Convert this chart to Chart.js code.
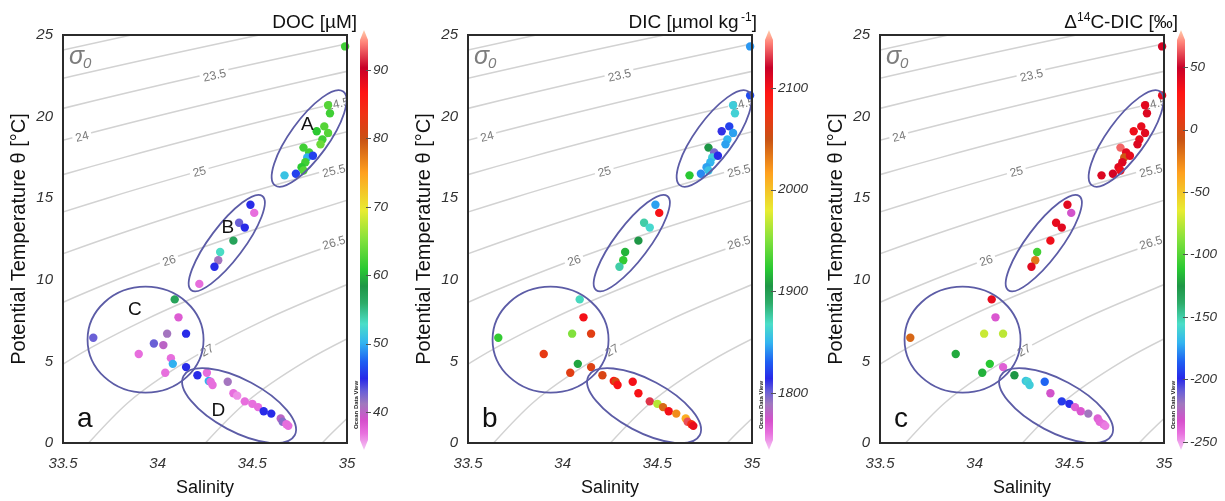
<!DOCTYPE html>
<html>
<head>
<meta charset="utf-8">
<script src="https://cdn.jsdelivr.net/npm/chart.js@4.4.1/dist/chart.umd.min.js"></script>
<style>
  html, body { margin: 0; padding: 0; background: #fff; }
  #wrap { position: relative; width: 1225px; height: 501px; overflow: hidden; }
  .panel { position: absolute; top: 0; height: 501px; }
</style>
</head>
<body>
<div id="wrap">
  <div class="panel" style="left:0;width:405px"><canvas id="chartA"></canvas></div>
  <div class="panel" style="left:405px;width:412px"><canvas id="chartB"></canvas></div>
  <div class="panel" style="left:817px;width:408px"><canvas id="chartC"></canvas></div>
</div>
<script>
// Samples (same stations in all three panels)
const salinity = [34.99, 34.99, 34.90, 34.91, 34.88, 34.84, 34.90, 34.87, 34.86, 34.77,
  34.80, 34.79, 34.82, 34.78, 34.76, 34.77, 34.73, 34.67,
  34.49, 34.51, 34.43, 34.46, 34.40, 34.33, 34.32, 34.30, 34.22,
  33.66, 34.09, 34.11, 34.15, 34.05, 33.98, 34.03, 33.90, 34.07, 34.08, 34.04, 34.15,
  34.21, 34.26, 34.27, 34.28, 34.29, 34.37, 34.40, 34.42, 34.46, 34.50, 34.53, 34.56, 34.60, 34.65, 34.66, 34.68, 34.69];
const temperature = [24.3, 21.3, 20.7, 20.2, 19.4, 19.1, 19.0, 18.6, 18.3, 18.1,
  17.8, 17.5, 17.6, 17.2, 16.9, 16.7, 16.5, 16.4,
  14.6, 14.1, 13.5, 13.2, 12.4, 11.7, 11.2, 10.8, 9.75,
  6.45, 8.8, 7.7, 6.7, 6.7, 6.1, 6.0, 5.45, 5.2, 4.85, 4.3, 4.65,
  4.15, 4.3, 3.8, 3.75, 3.55, 3.75, 3.05, 2.9, 2.55, 2.4, 2.2, 1.95, 1.8, 1.5, 1.3, 1.15, 1.05];
// null = not measured / not shown in that panel
const doc = [62, null, 63, 62, 63, 61, 63, 62, 64, 62,
  62, 50, 46, 62, 61, 63, 46, 51,
  45, 37, 43, 45, 57, 53, 41, 45, 37,
  43, 57, 38, 45, 41, 43, 40, 37, 37, 50, 37, 45,
  45, 37, 50, 37, 37, 41, 37, 36, 37, 37, 37, 45, 45, 40, 42, 37, 37];
const dic = [1843, 1825, 1860, 1862, 1822, 1812, 1845, 1850, 1845, 1905,
  1798, 1860, 1815, 1850, 1845, 1855, 1840, 1922,
  1845, 2098, 1875, 1865, 1905, 1915, 1925, 1875, null,
  1925, 1870, 2100, 2065, 1950, null, null, 2068, null, 1910, 2065, 2062,
  2060, null, 2092, 2060, 2098, 2100, 2098, null, 2130, 1965, 2040, 2100, 2025, 2010, 2135, 2080, 2105];
const d14c = [45, 38, 40, 42, 38, 35, 40, 38, 42, 65,
  40, -10, 38, 42, 40, 35, 45, 42,
  40, -232, 38, 40, 35, -105, -20, 40, null,
  -15, 38, -235, -75, -72, null, null, -120, null, -112, -118, -238,
  -125, null, -165, -160, -162, -185, -232, null, -195, -198, -238, -235, -220, -238, -240, -242, -245];

const salinityTicks = [33.5, 34, 34.5, 35];
const tempTicks = [0, 5, 10, 15, 20, 25];
const docTicks = [40, 50, 60, 70, 80, 90];
const dicTicks = [1800, 1900, 2000, 2100];
const d14cTicks = [-250, -200, -150, -100, -50, 0, 50];

// sigma-0 isopycnals 22.5 ... 28 (salinity / temperature pairs)
const contourSal = [
  [32.888, 33.861, 34.918],
  [32.662, 33.557, 34.537, 35.600],
  [32.509, 33.325, 34.226, 35.212],
  [32.431, 33.166, 33.988, 34.896, 35.888],
  [32.428, 33.082, 33.823, 34.651, 35.565],
  [32.504, 33.074, 33.733, 34.480, 35.314],
  [32.658, 33.143, 33.719, 34.384, 35.137],
  [32.896, 33.292, 33.783, 34.364, 35.035],
  [32.944, 33.017, 33.223, 33.524, 33.925, 34.422, 35.009],
  [33.562, 33.635, 33.846, 34.152, 34.559, 35.061],
  [34.179, 34.252, 34.468, 34.780, 35.193],
  [34.796, 34.869, 35.091]
];
const contourTemp = [
  [22.5, 25, 27.5],
  [20, 22.5, 25, 27.5],
  [17.5, 20, 22.5, 25],
  [15, 17.5, 20, 22.5, 25],
  [12.5, 15, 17.5, 20, 22.5],
  [10, 12.5, 15, 17.5, 20],
  [7.5, 10, 12.5, 15, 17.5],
  [5, 7.5, 10, 12.5, 15],
  [-1, 0, 2.5, 5, 7.5, 10, 12.5],
  [-1, 0, 2.5, 5, 7.5, 10],
  [-1, 0, 2.5, 5, 7.5],
  [-1, 0, 2.5]
];
const contourLabelText = ['23.5', '24', '24.5', '25', '25.5', '26', '26.5', '27'];
const contourLabelSal = [34.30, 33.60, 34.95, 34.22, 34.93, 34.06, 34.93, 34.26];
const contourLabelTemp = [22.55, 18.8, 20.8, 16.65, 16.7, 11.2, 12.3, 5.7];
const contourLabelAngle = [-13, -14, -13, -14, -14, -17, -16, -30];

// water-mass groups (panel a labels them)
const groupEllipses = [
  { name: 'A', s: 34.80, t: 18.66, rx: 58, ry: 19, rot: -54, ls: 34.79, lt: 19.5 },
  { name: 'B', s: 34.365, t: 12.25, rx: 59, ry: 17, rot: -53, ls: 34.37, lt: 13.2 },
  { name: 'C', s: 33.936, t: 6.33, rx: 58, ry: 53, rot: 0, ls: 33.88, lt: 8.15 },
  { name: 'D', s: 34.43, t: 2.29, rx: 63, ry: 26, rot: 28, ls: 34.32, lt: 2.0 }
];

const FONT = '"Liberation Sans", Arial, sans-serif';

// ODV-like rainbow palette, position 0 (bottom) .. 1 (top)
const paletteStops = [
  [0.00, 245, 200, 245], [0.04, 232, 112, 222], [0.07, 214, 80, 204],
  [0.11, 160, 120, 190], [0.14, 105, 95, 215], [0.17, 40, 40, 232],
  [0.21, 30, 95, 242], [0.255, 50, 180, 240], [0.30, 75, 222, 200],
  [0.35, 45, 172, 105], [0.39, 30, 150, 70], [0.43, 40, 200, 50],
  [0.50, 130, 225, 60], [0.57, 232, 236, 50], [0.66, 255, 160, 30],
  [0.74, 200, 82, 20], [0.80, 240, 50, 20], [0.85, 255, 20, 20],
  [0.91, 200, 0, 40], [0.97, 255, 130, 120], [1.00, 255, 205, 170]
];

function paletteColor(t) {
  t = Math.max(0, Math.min(1, t));
  for (let i = 1; i < paletteStops.length; i++) {
    const a = paletteStops[i - 1], b = paletteStops[i];
    if (t <= b[0]) {
      const f = (t - a[0]) / (b[0] - a[0]);
      const c = [1, 2, 3].map(k => Math.round(a[k] + (b[k] - a[k]) * f));
      return 'rgb(' + c.join(',') + ')';
    }
  }
  const l = paletteStops[paletteStops.length - 1];
  return 'rgb(' + l[1] + ',' + l[2] + ',' + l[3] + ')';
}

function drawRich(ctx, parts, xRight, y) {
  const fonts = parts.map(p => p[1] ? '12px ' + FONT : '19px ' + FONT);
  let total = 0;
  parts.forEach((p, i) => { ctx.font = fonts[i]; total += ctx.measureText(p[0]).width; });
  let x = xRight - total;
  ctx.textAlign = 'left';
  ctx.textBaseline = 'alphabetic';
  parts.forEach((p, i) => {
    ctx.font = fonts[i];
    ctx.fillText(p[0], x, p[1] ? y - 7 : y);
    x += ctx.measureText(p[0]).width;
  });
}

function makeDecor(p) {
  return {
    id: 'odvDecor',
    beforeDatasetDraw(chart, args) {
      if (args.index !== 0) return;
      const { ctx, chartArea: a, scales: { x, y } } = chart;
      ctx.save();
      ctx.beginPath();
      ctx.rect(a.left, a.top, a.right - a.left, a.bottom - a.top);
      ctx.clip();
      ctx.font = '12px ' + FONT;
      ctx.textAlign = 'center';
      ctx.textBaseline = 'middle';
      contourLabelText.forEach((txt, k) => {
        ctx.save();
        ctx.translate(x.getPixelForValue(contourLabelSal[k]), y.getPixelForValue(contourLabelTemp[k]));
        ctx.rotate(contourLabelAngle[k] * Math.PI / 180);
        const w = ctx.measureText(txt).width + 6;
        ctx.fillStyle = '#fff';
        ctx.fillRect(-w / 2, -7, w, 14);
        ctx.fillStyle = '#7a7a7a';
        ctx.fillText(txt, 0, 1);
        ctx.restore();
      });
      // sigma-0 tag
      ctx.fillStyle = '#7d7d7d';
      ctx.textAlign = 'left';
      ctx.textBaseline = 'alphabetic';
      ctx.font = 'italic 25px ' + FONT;
      ctx.fillText('σ', a.left + 6, a.top + 29);
      ctx.font = 'italic 15px ' + FONT;
      ctx.fillText('0', a.left + 20, a.top + 33);
      ctx.restore();
    },
    afterDatasetsDraw(chart) {
      const { ctx, chartArea: a, scales: { x, y, cb } } = chart;
      ctx.save();
      // group ellipses
      ctx.strokeStyle = '#5c5ca6';
      ctx.lineWidth = 1.8;
      groupEllipses.forEach(e => {
        ctx.beginPath();
        ctx.ellipse(x.getPixelForValue(e.s), y.getPixelForValue(e.t), e.rx, e.ry, e.rot * Math.PI / 180, 0, Math.PI * 2);
        ctx.stroke();
      });
      if (p.groups) {
        ctx.fillStyle = '#111';
        ctx.font = '19px ' + FONT;
        ctx.textAlign = 'center';
        ctx.textBaseline = 'middle';
        groupEllipses.forEach(e => ctx.fillText(e.name, x.getPixelForValue(e.ls), y.getPixelForValue(e.lt)));
      }
      // frame
      ctx.strokeStyle = '#2b2b2b';
      ctx.lineWidth = 2;
      ctx.strokeRect(a.left, a.top, a.right - a.left, a.bottom - a.top);
      // panel letter
      ctx.fillStyle = '#111';
      ctx.font = '28px ' + FONT;
      ctx.textAlign = 'left';
      ctx.textBaseline = 'alphabetic';
      ctx.fillText(p.letter, a.left + 14, 427);
      // colour bar
      const bx = a.right + 13, bw = 8;
      const yTop = cb.getPixelForValue(p.hi), yBot = cb.getPixelForValue(p.lo);
      const g = ctx.createLinearGradient(0, yBot, 0, yTop);
      paletteStops.forEach(s => g.addColorStop(s[0], 'rgb(' + s[1] + ',' + s[2] + ',' + s[3] + ')'));
      ctx.fillStyle = g;
      ctx.beginPath();
      ctx.moveTo(bx, yTop + 10);
      ctx.lineTo(bx + bw / 2, yTop);
      ctx.lineTo(bx + bw, yTop + 10);
      ctx.lineTo(bx + bw, yBot - 10);
      ctx.lineTo(bx + bw / 2, yBot);
      ctx.lineTo(bx, yBot - 10);
      ctx.closePath();
      ctx.fill();
      ctx.strokeStyle = '#555';
      ctx.lineWidth = 1;
      p.ticks.forEach(v => {
        const ty = Math.round(cb.getPixelForValue(v)) + 0.5;
        ctx.beginPath();
        ctx.moveTo(bx + bw - 2, ty);
        ctx.lineTo(bx + bw + 3, ty);
        ctx.stroke();
      });
      // colour bar title
      ctx.fillStyle = '#111';
      drawRich(ctx, p.title, a.right + p.titleRight, 28);
      // watermark
      ctx.save();
      ctx.translate(a.right + 9, 405);
      ctx.rotate(-Math.PI / 2);
      ctx.font = 'bold 6px ' + FONT;
      ctx.textAlign = 'center';
      ctx.textBaseline = 'middle';
      ctx.fillStyle = '#222';
      ctx.fillText('Ocean Data View', 0, 0);
      ctx.restore();
      ctx.restore();
    }
  };
}

const tickFont = { family: FONT, size: 15, style: 'italic' };

function buildChart(p) {
  const pts = [], cols = [];
  salinity.forEach((s, i) => {
    const v = p.values[i];
    if (v === null) return;
    pts.push({ x: s, y: temperature[i] });
    cols.push(paletteColor((v - p.lo) / (p.hi - p.lo)));
  });
  const datasets = [{
    data: pts, backgroundColor: cols, borderWidth: 0,
    pointRadius: 4.2, pointHoverRadius: 4.2, clip: false
  }];
  contourSal.forEach((arr, k) => {
    datasets.push({
      data: arr.map((s, j) => ({ x: s, y: contourTemp[k][j] })),
      showLine: true, pointRadius: 0, borderColor: '#d2d2d2', borderWidth: 1.5,
      cubicInterpolationMode: 'monotone', capBezierPoints: false, fill: false
    });
  });

  new Chart(document.getElementById(p.canvas).getContext('2d'), {
    type: 'scatter',
    data: { datasets: datasets },
    options: {
      responsive: true,
      maintainAspectRatio: false,
      animation: false,
      events: [],
      layout: { padding: { top: 35, left: 0, right: 0, bottom: 0 } },
      plugins: { legend: { display: false }, tooltip: { enabled: false } },
      scales: {
        x: {
          type: 'linear', position: 'bottom', min: 33.5, max: 35,
          afterBuildTicks: s => { s.ticks = salinityTicks.map(v => ({ value: v })); },
          afterFit: s => { s.height = 58; },
          grid: { display: false, drawTicks: false }, border: { display: false },
          ticks: { padding: 12, color: '#333', font: tickFont, maxRotation: 0, autoSkip: false, callback: v => String(v) },
          title: { display: true, text: 'Salinity', color: '#111', font: { family: FONT, size: 18 }, padding: { top: 0, bottom: 2 } }
        },
        y: {
          type: 'linear', position: 'left', min: 0, max: 25,
          afterBuildTicks: s => { s.ticks = tempTicks.map(v => ({ value: v })); },
          afterFit: s => { s.width = 63; },
          grid: { display: false, drawTicks: false }, border: { display: false },
          ticks: { padding: 10, color: '#333', font: tickFont, callback: v => String(v) },
          title: { display: true, text: 'Potential Temperature θ [°C]', color: '#111', font: { family: FONT, size: 20 }, padding: { top: 7, bottom: 0 } }
        },
        cb: {
          type: 'linear', position: 'right', min: p.cbMin, max: p.cbMax,
          afterBuildTicks: s => { s.ticks = p.ticks.map(v => ({ value: v })); },
          afterFit: s => { s.width = s.chart.width - 347; },
          grid: { display: false, drawTicks: false }, border: { display: false },
          ticks: { padding: 26, color: '#333', font: { family: FONT, size: 13.5, style: 'italic' }, callback: v => String(v) }
        }
      }
    },
    plugins: [makeDecor(p)]
  });
}

buildChart({ canvas: 'chartA', values: doc, ticks: docTicks, cbMin: 35.47, cbMax: 95.12, lo: 34.45, hi: 95.85,
  title: [['DOC [µM]', false]], titleRight: 10, letter: 'a', groups: true });
buildChart({ canvas: 'chartB', values: dic, ticks: dicTicks, cbMin: 1750.8, cbMax: 2152.1, lo: 1743.9, hi: 2157,
  title: [['DIC [µmol kg', false], ['\u2009-1', true], [']', false]], titleRight: 5, letter: 'b', groups: false });
buildChart({ canvas: 'chartC', values: d14c, ticks: d14cTicks, cbMin: -250.8, cbMax: 75.6, lo: -256.4, hi: 79.6,
  title: [['Δ', false], ['14', true], ['C-DIC [‰]', false]], titleRight: 14, letter: 'c', groups: false });
</script>
</body>
</html>
